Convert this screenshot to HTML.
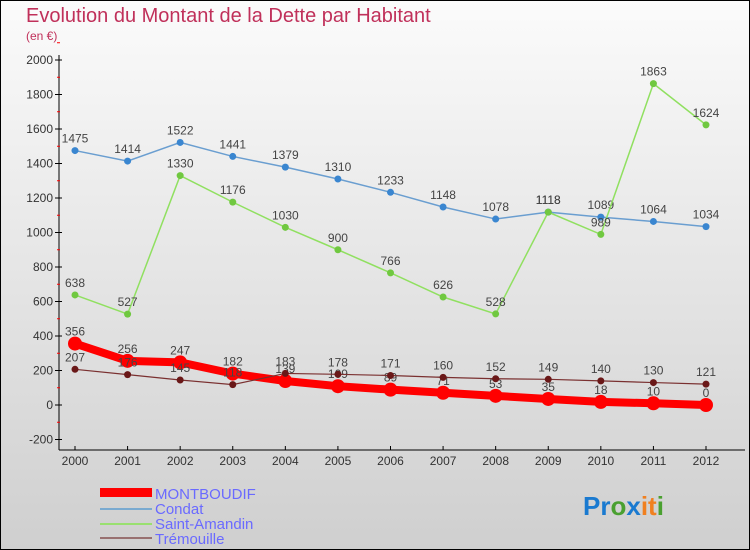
<!DOCTYPE html>
<html><head><meta charset="utf-8"><style>
body{margin:0;}
svg{display:block;font-family:"Liberation Sans",sans-serif;}
</style></head><body>
<svg id="c" width="750" height="550" xmlns="http://www.w3.org/2000/svg">
<defs><linearGradient id="bg" x1="0" y1="0" x2="0" y2="1"><stop offset="0" stop-color="#fbfbfb"/><stop offset="1" stop-color="#cfcfcf"/></linearGradient></defs>
<rect x="0.5" y="0.5" width="749" height="549" fill="url(#bg)" stroke="#000"/>
<text x="26" y="22" font-size="20" fill="#c0305a">Evolution du Montant de la Dette par Habitant</text>
<text x="26" y="40" font-size="12" fill="#c0305a">(en €)</text>
<g id="axes"></g><g id="series"></g>
<g>
<rect x="100" y="488" width="52" height="9" fill="#f00"/>
<text x="155" y="499" font-size="15" fill="#6a6aff">MONTBOUDIF</text>
<line x1="100" y1="509" x2="152" y2="509" stroke="#7aaad0" stroke-width="2"/>
<text x="155" y="514" font-size="15" fill="#6a6aff">Condat</text>
<line x1="100" y1="524" x2="152" y2="524" stroke="#99e070" stroke-width="2"/>
<text x="155" y="529" font-size="15" fill="#6a6aff">Saint-Amandin</text>
<line x1="100" y1="538" x2="152" y2="538" stroke="#987070" stroke-width="2"/>
<text x="155" y="544" font-size="15" fill="#6a6aff">Trémouille</text>
</g>
<text x="583" y="515" font-size="26" font-weight="bold"><tspan fill="#1a7ad0">Pr</tspan><tspan fill="#4aa030">o</tspan><tspan fill="#1a7ad0">x</tspan><tspan fill="#f08020">it</tspan><tspan fill="#4aa030">i</tspan></text>
</svg>
<script>
const years=[2000,2001,2002,2003,2004,2005,2006,2007,2008,2009,2010,2011,2012];
const yTicks=[-200,0,200,400,600,800,1000,1200,1400,1600,1800,2000];
const montboudif=[356,256,247,182,139,109,89,71,53,35,18,10,0];
const condat=[1475,1414,1522,1441,1379,1310,1233,1148,1078,1118,1089,1064,1034];
const saintAmandin=[638,527,1330,1176,1030,900,766,626,528,1118,989,1863,1624];
const tremouille=[207,176,145,118,183,178,171,160,152,149,140,130,121];
const NS="http://www.w3.org/2000/svg";
const X=i=>75+i*(706-75)/12;
const Y=v=>405-v*0.1725;
function mk(t,a,p){const e=document.createElementNS(NS,t);for(const k in a)e.setAttribute(k,a[k]);p.appendChild(e);return e;}
const ax=document.getElementById('axes');
let l=mk('line',{x1:59,y1:55,x2:59,y2:450,stroke:'#000'},ax);


l=mk('line',{x1:59,y1:450,x2:745,y2:450,stroke:'#000'},ax);


yTicks.forEach(v=>{
  mk('line',{x1:55,y1:Y(v),x2:62,y2:Y(v),stroke:'#000'},ax);
  mk('line',{x1:57,y1:Y(v+100),x2:60,y2:Y(v+100),stroke:'#f00'},ax);
  const t=mk('text',{x:53,y:Y(v)+4,'font-size':12,fill:'#333','text-anchor':'end'},ax);
  t.textContent=v;
  
  
});
years.forEach((yr,i)=>{
  mk('line',{x1:X(i),y1:446,x2:X(i),y2:450,stroke:'#000'},ax);
  const t=mk('text',{x:X(i),y:465,'font-size':12,fill:'#333','text-anchor':'middle'},ax);
  t.textContent=yr;
  
  
});
const sg=document.getElementById('series');
function series(name,data,color,w,r,dot){
  const g=mk('g',{},sg);
  
  
  const pl=mk('polyline',{points:data.map((v,i)=>X(i)+','+Y(v)).join(' '),fill:'none',stroke:color,'stroke-width':w},g);
  
  
  data.forEach((v,i)=>{
    const c=mk('circle',{cx:X(i),cy:Y(v),r:r,fill:dot},g);
    
    
    const t=mk('text',{x:X(i),y:Y(v)-8,'font-size':12,fill:'#444','text-anchor':'middle'},g);
    t.textContent=v;
    
    
  });
}
series('condat',condat,'#6a9ed0',1.5,3.5,'#3a86d0');
series('saint-amandin',saintAmandin,'#90e060',1.5,3.5,'#70c840');
series('montboudif',montboudif,'#f00',8,7,'#f00');
series('tremouille',tremouille,'#7a3030',1.2,3.5,'#6a1818');
</script>
</body></html>
